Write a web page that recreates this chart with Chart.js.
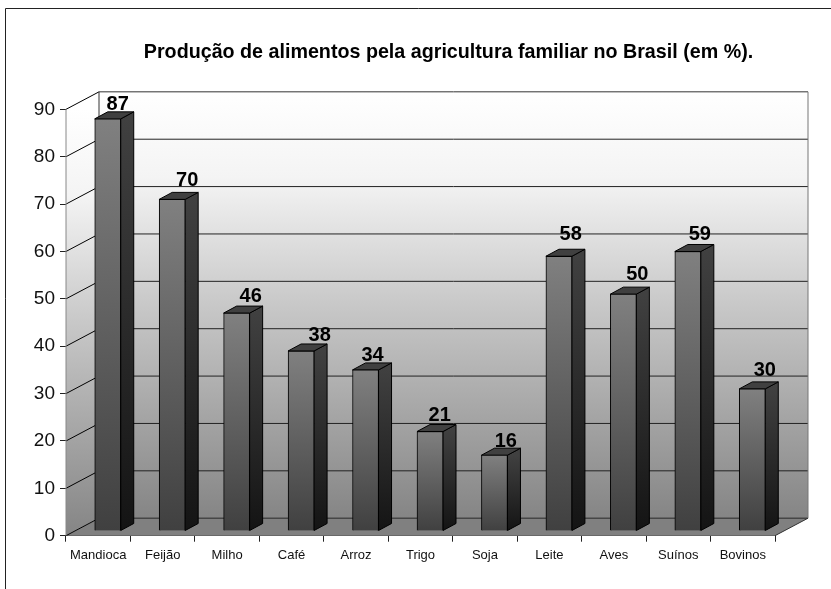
<!DOCTYPE html>
<html><head><meta charset="utf-8">
<style>html,body{margin:0;padding:0;background:#fff}canvas{display:block}</style>
<script src="https://cdn.jsdelivr.net/npm/chart.js@4"></script>
</head><body>
<div style="width:831px;height:589px"><canvas id="c" width="831" height="589"></canvas></div>
<script>
const categories = ["Mandioca","Feijão","Milho","Café","Arroz","Trigo","Soja","Leite","Aves","Suínos","Bovinos"];
const values = [87,70,46,38,34,21,16,58,50,59,30];
const titleText = "Produção de alimentos pela agricultura familiar no Brasil (em %).";
const yMax = 90, yStep = 10;
const FONT = '"Liberation Sans", Arial, sans-serif';
const DEPTH_X = 33, DEPTH_Y = 17.5;      // wall depth
const BAR_X = 9.5, BAR_Y = 4.7;          // bar offset from the front axis
const SIDE_X = 13, SIDE_Y = 7;           // bar depth
// the labels were nudged by hand in the original
const labelDx = [10,15,14,18.6,7,9.7,11.3,11.8,13.9,12,12.5];
const labelDy = [9,13,11,10,9,11,8,16,14,11,13];

function poly(ctx, pts, fill, stroke, lw){
  ctx.beginPath();
  pts.forEach((p,i)=> i?ctx.lineTo(p[0],p[1]):ctx.moveTo(p[0],p[1]));
  ctx.closePath();
  if(fill){ctx.fillStyle=fill;ctx.fill();}
  if(stroke){ctx.strokeStyle=stroke;ctx.lineWidth=lw||1;ctx.stroke();}
}
function seg(ctx,x1,y1,x2,y2,c,lw){ctx.beginPath();ctx.moveTo(x1,y1);ctx.lineTo(x2,y2);ctx.strokeStyle=c;ctx.lineWidth=lw||1;ctx.stroke();}

function vGrad(ctx,y0,y1,stops){
  const g=ctx.createLinearGradient(0,y0,0,y1);
  stops.forEach(s=>g.addColorStop(s[0],s[1]));
  return g;
}

const scene3d = {
  id:'scene3d',
  afterLayout(chart){
    // title sits right of the plot centre in the reference
    if(chart.titleBlock){chart.titleBlock.left+=61;chart.titleBlock.right+=61;}
  },
  beforeDatasetsDraw(chart){
    const {ctx,chartArea:a,scales:{y}}=chart;
    const L=a.left,R=a.right,T=a.top,B=a.bottom,dx=DEPTH_X,dy=DEPTH_Y;
    ctx.save();
    // page frame
    seg(ctx,5.5,8.5,5.5,589,'#222',1);
    seg(ctx,5.5,8.5,831,8.5,'#222',1);
    // back wall + left wall
    const stops=[[0,'#ffffff'],[0.2,'#f4f4f4'],[0.5,'#c8c8c8'],[1,'#858585']];
    poly(ctx,[[L+dx,T-dy],[R+dx,T-dy],[R+dx,B-dy],[L+dx,B-dy]],vGrad(ctx,T-dy,B-dy,stops));
    poly(ctx,[[L,T],[L+dx,T-dy],[L+dx,B-dy],[L,B]],vGrad(ctx,T,B,stops));
    // floor
    poly(ctx,[[L,B],[L+dx,B-dy],[R+dx,B-dy],[R,B]],'#808080');
    // grid
    for(let v=0;v<=yMax;v+=yStep){
      const p=y.getPixelForValue(v);
      seg(ctx,L,p,L+dx,p-dy,'#000',1);
      seg(ctx,L+dx,p-dy,R+dx,p-dy,v===yMax?'#333':'#222',1);
    }
    seg(ctx,L+dx,T-dy,L+dx,B-dy,'#333',1);
    seg(ctx,R+dx,T-dy,R+dx,B-dy,'#777',1);
    seg(ctx,R,B,R+dx,B-dy,'#333',1);
    seg(ctx,L,T,L,B,'#888',1);
    ctx.restore();
  },
  beforeDatasetDraw(chart){
    const ctx=chart.ctx,meta=chart.getDatasetMeta(0);
    ctx.save();
    ctx.translate(BAR_X,-BAR_Y);
    // side and top faces, drawn behind each front face
    meta.data.forEach(b=>{
      const x1=b.x-b.width/2,x2=b.x+b.width/2,top=b.y,bot=b.base;
      const side=vGrad(ctx,top,bot,[[0,'#404040'],[1,'#141414']]);
      poly(ctx,[[x2,top],[x2+SIDE_X,top-SIDE_Y],[x2+SIDE_X,bot-SIDE_Y],[x2,bot]],side,'#000',1);
      poly(ctx,[[x1,top],[x1+SIDE_X,top-SIDE_Y],[x2+SIDE_X,top-SIDE_Y],[x2,top]],'#404040','#000',1);
    });
  },
  afterDatasetDraw(chart){
    chart.ctx.restore();
  },
  afterDatasetsDraw(chart){
    const ctx=chart.ctx,meta=chart.getDatasetMeta(0);
    ctx.save();
    ctx.font='bold 20px '+FONT;
    ctx.fillStyle='#000';
    ctx.textAlign='center';
    ctx.textBaseline='alphabetic';
    meta.data.forEach((b,i)=>{
      ctx.fillText(String(values[i]),b.x+BAR_X+labelDx[i],b.y-BAR_Y-labelDy[i]);
    });
    ctx.restore();
  }
};

new Chart(document.getElementById('c'),{
  type:'bar',
  data:{labels:categories,datasets:[{
    data:values,
    barThickness:26,
    borderColor:'#000',
    borderWidth:1,
    backgroundColor(c){
      const y=c.chart.scales.y;
      if(!y||c.raw===undefined) return '#666';
      const y0=y.getPixelForValue(c.raw),y1=y.getPixelForValue(0);
      if(!isFinite(y0)||!isFinite(y1)) return '#666';
      return vGrad(c.chart.ctx,y0,y1,[[0,'#808080'],[1,'#404040']]);
    }
  }]},
  plugins:[scene3d],
  options:{
    responsive:false,animation:false,
    layout:{padding:{left:0,right:56,top:0,bottom:0}},
    plugins:{
      legend:{display:false},tooltip:{enabled:false},
      title:{display:true,text:titleText,color:'#000',
        font:{family:FONT,size:19.7,weight:'bold',lineHeight:1.2},
        padding:{top:40.7,bottom:45}}
    },
    scales:{
      x:{
        afterFit(s){s.height=53.3;},
        grid:{offset:true,drawOnChartArea:false,drawTicks:true,tickLength:6,color:'#222'},
        border:{color:'#222',width:1},
        ticks:{color:'#111',font:{family:FONT,size:13},padding:6,maxRotation:0,autoSkip:false}
      },
      y:{
        min:0,max:yMax,
        afterFit(s){s.width=66;},
        grid:{drawOnChartArea:false,drawTicks:true,tickLength:6,color:'#222'},
        border:{display:false},
        ticks:{stepSize:yStep,color:'#111',font:{family:FONT,size:19},padding:5}
      }
    }
  }
});
</script>
</body></html>
